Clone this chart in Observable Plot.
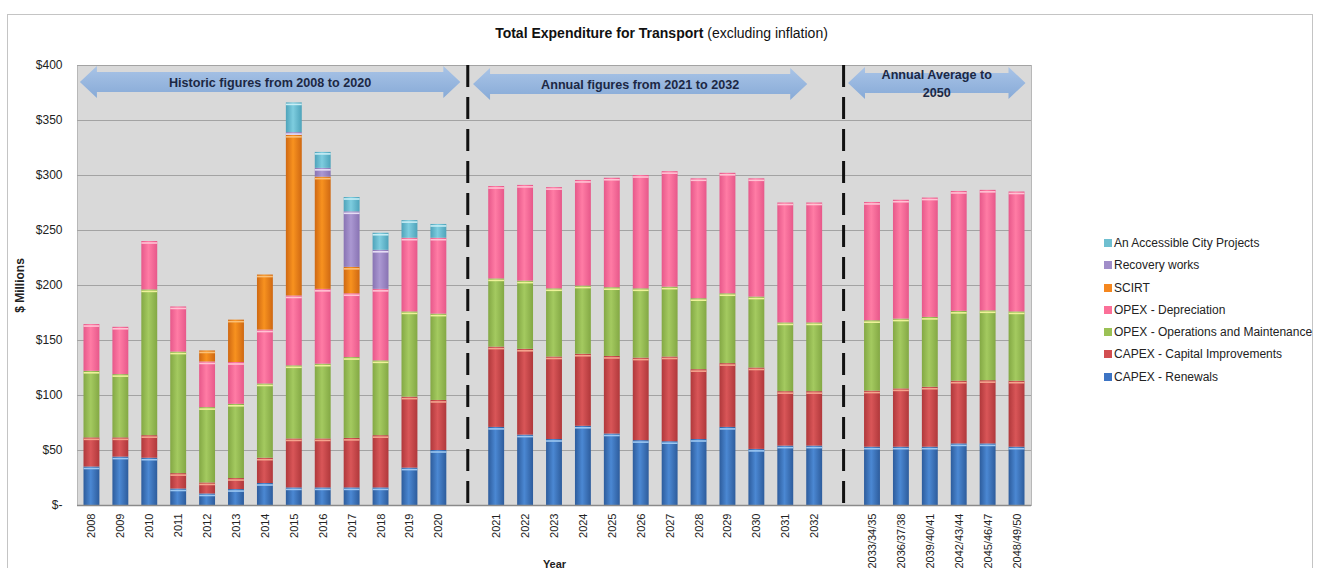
<!DOCTYPE html>
<html>
<head>
<meta charset="utf-8">
<script src="https://cdn.jsdelivr.net/npm/d3@7"></script>
<script src="https://cdn.jsdelivr.net/npm/@observablehq/plot@0.6"></script>
<style>
  html, body { margin: 0; padding: 0; background: #fff; }
  #wrap { position: relative; width: 1323px; height: 568px; overflow: hidden; font-family: "Liberation Sans", Arial, sans-serif; }
  #border { position: absolute; left: 7px; top: 14px; width: 1306px; height: 600px; border: 1px solid #c4c4c4; box-sizing: border-box; }
  #title { position: absolute; left: 0; width: 1323px; top: 25px; text-align: center; font-size: 14px; color: #111; }
  #title b { font-weight: bold; }
  #chart { position: absolute; left: 0; top: 0; }
  #legend { position: absolute; left: 1104px; top: 235px; font-size: 12px; color: #222; }
  #legend .item { height: 22.3px; line-height: 16px; white-space: nowrap; }
  #legend .sw { display: inline-block; width: 8px; height: 8px; margin-right: 2px; vertical-align: 0px; }
  g[aria-label="y-axis label"] text, g[aria-label="x-axis label"] text { font-weight: bold; }
</style>
</head>
<body>
<div id="wrap">
  <div id="border"></div>
  <div id="chart"></div>
  <div id="title"><b>Total Expenditure for Transport</b> (excluding inflation)</div>
  <div id="legend"></div>
</div>
<script>
// ---------- DATA ----------
const categories = [
  "2008","2009","2010","2011","2012","2013","2014","2015","2016","2017","2018","2019","2020",
  "2021","2022","2023","2024","2025","2026","2027","2028","2029","2030","2031","2032",
  "2033/34/35","2036/37/38","2039/40/41","2042/43/44","2045/46/47","2048/49/50"
];
const seriesNames = [
  "CAPEX - Renewals",
  "CAPEX - Capital Improvements",
  "OPEX - Operations and Maintenance",
  "OPEX - Depreciation",
  "SCIRT",
  "Recovery works",
  "An Accessible City Projects"
];
const renewals = [35,44,43,15,10.5,14.5,20,16,16,16,16,34,50, 71,64,60,72,65,59,58,60,71,51,54,54, 53,53,53,56,56,53];
const capitalImprovements = [26.5,17.5,20.5,14,10,10,23,44.5,44.5,45,47.5,64.5,45.5, 73,78,75,65.5,70.5,75,77,63.5,58,74,49.5,49.5, 51,53,54.5,57,57.5,60];
const operationsMaintenance = [60.5,57.5,132.5,110.5,68.5,67.5,67.5,66.5,68,73.5,68,77.5,78.5, 62,62,62,62,62.5,63,63.5,64.5,63.5,64.5,62.5,62.5, 64,63.5,63.5,63.5,63.5,63];
const depreciation = [42.5,43,44,41,41.5,38,49,63.5,68,58,65,67,69, 84,87,92,96,99.5,103,105,109,109.5,107.5,109,109, 107.5,108,108.5,109,109.5,109];
const scirt = [0,0,0,0,10,38.5,50,146,102,24,0,0,0, 0,0,0,0,0,0,0,0,0,0,0,0, 0,0,0,0,0,0];
const recoveryWorks = [0,0,0,0,0,0,0,2.5,8,50.5,35.5,0,0, 0,0,0,0,0,0,0,0,0,0,0,0, 0,0,0,0,0,0];
const accessibleCity = [0,0,0,0,0,0,0,27,14.5,13,15.5,16,12.5, 0,0,0,0,0,0,0,0,0,0,0,0, 0,0,0,0,0,0];
const yTicks = [0,50,100,150,200,250,300,350,400];
const periods = [
  {from: "2008", to: "2020", label: ["Historic figures from 2008 to 2020"]},
  {from: "2021", to: "2032", label: ["Annual figures from 2021 to 2032"]},
  {from: "2033/34/35", to: "2048/49/50", label: ["Annual Average to", "2050"]}
];
const gapAfter = ["2020", "2032"];

// ---------- STYLES ----------
const palette = {
  "CAPEX - Renewals":                  {id: "gBlue",   edge: "#2d5c9c", mid: "#4b88d3", cap: "#9cc8f2", sw: "#3d74c4"},
  "CAPEX - Capital Improvements":      {id: "gRed",    edge: "#b0383b", mid: "#d95658", cap: "#f4a58e", sw: "#d24e50"},
  "OPEX - Operations and Maintenance": {id: "gGreen",  edge: "#83a844", mid: "#a4ca60", cap: "#eef29a", sw: "#9bc155"},
  "OPEX - Depreciation":               {id: "gPink",   edge: "#e7588a", mid: "#ff7ca5", cap: "#ffc3d4", sw: "#fb6f98"},
  "SCIRT":                             {id: "gOrange", edge: "#cf6812", mid: "#f8921f", cap: "#fbc077", sw: "#f5871f"},
  "Recovery works":                    {id: "gPurple", edge: "#8873b3", mid: "#ab98d2", cap: "#e6ddf5", sw: "#a18ec9"},
  "An Accessible City Projects":       {id: "gCyan",   edge: "#4ea3ba", mid: "#7ecddf", cap: "#c9eef5", sw: "#6fbfd0"}
};
const arrowOffsets = [[-0.40, 0.76], [-0.80, -0.24], [-0.83, 0.31]];
const arrowY = [82, 84, 83];

// ---------- BUILD ----------
const seriesValues = [renewals, capitalImprovements, operationsMaintenance, depreciation, scirt, recoveryWorks, accessibleCity];
const rows = [];
seriesNames.forEach((s, si) => {
  categories.forEach((c, ci) => {
    rows.push({cat: c, series: s, value: seriesValues[si][ci]});
  });
});
const gaps = gapAfter.map((_, i) => "gap" + i);
const xDomain = [];
categories.forEach(c => {
  xDomain.push(c);
  const gi = gapAfter.indexOf(c);
  if (gi >= 0) xDomain.push(gaps[gi]);
});
const nonZero = rows.filter(d => d.value > 0);

const plot = Plot.plot({
  width: 1323,
  height: 568,
  marginLeft: 77,
  marginRight: 292,
  marginTop: 65,
  marginBottom: 63,
  style: {fontFamily: "'Liberation Sans', Arial, sans-serif", background: "transparent", color: "#222"},
  x: {domain: xDomain, paddingInner: 0.45, paddingOuter: 0.225, round: false, label: null},
  y: {domain: [0, 400], label: null},
  color: {type: "identity"},
  marks: [
    Plot.frame({fill: "#d9d9d9", stroke: "#b8b8b8"}),
    Plot.gridY(yTicks, {stroke: "#a3a3a3", strokeOpacity: 1, strokeWidth: 1}),
    Plot.barY(nonZero, {x: "cat", y: "value", fill: d => "url(#" + palette[d.series].id + ")", order: seriesNames}),
    Plot.tickY(nonZero, Plot.stackY2({x: "cat", y: "value", order: seriesNames, stroke: d => palette[d.series].cap, strokeWidth: 1.6, dy: 1.5})),
    Plot.ruleX(gaps, {stroke: "#111", strokeWidth: 3, strokeDasharray: "22,10"}),
    Plot.ruleY([0], {stroke: "#8a8a8a", strokeWidth: 1.5}),
    Plot.axisY({ticks: yTicks, tickSize: 0, tickPadding: 15, fontSize: 12, tickFormat: d => d === 0 ? "$-" : "$" + d,
      label: "$ Millions", labelAnchor: "center", labelArrow: "none", labelOffset: 62}),
    Plot.axisX({tickRotate: -90, tickSize: 0, tickPadding: 8, fontSize: 11, tickFormat: d => gaps.includes(d) ? "" : d,
      label: "Year", labelAnchor: "center", labelArrow: "none", labelOffset: 62})
  ]
});

// gradients
const svg = d3.select(plot);
const defs = svg.insert("defs", ":first-child");
Object.values(palette).forEach(p => {
  const g = defs.append("linearGradient").attr("id", p.id).attr("x1", "0").attr("x2", "1").attr("y1", "0").attr("y2", "0");
  g.append("stop").attr("offset", "0%").attr("stop-color", p.edge);
  g.append("stop").attr("offset", "45%").attr("stop-color", p.mid);
  g.append("stop").attr("offset", "100%").attr("stop-color", p.edge);
});
const ag = defs.append("linearGradient").attr("id", "gArrow").attr("x1", "0").attr("x2", "0").attr("y1", "0").attr("y2", "1");
ag.append("stop").attr("offset", "0%").attr("stop-color", "#a9c4e7");
ag.append("stop").attr("offset", "100%").attr("stop-color", "#87aad7");

// period arrows
const xs = plot.scale("x");
const bw = xs.bandwidth, step = xs.step;
const cx = c => xs.apply(c) + bw / 2;
const annot = svg.append("g").attr("aria-label", "period arrows");
periods.forEach((p, i) => {
  const x0 = cx(p.from) + arrowOffsets[i][0] * step;
  const x1 = cx(p.to) + arrowOffsets[i][1] * step;
  const yc = arrowY[i], hh = 16, sh = 10, hl = 17;
  const pts = [[x0, yc], [x0 + hl, yc - hh], [x0 + hl, yc - sh], [x1 - hl, yc - sh], [x1 - hl, yc - hh], [x1, yc],
               [x1 - hl, yc + hh], [x1 - hl, yc + sh], [x0 + hl, yc + sh], [x0 + hl, yc + hh]];
  annot.append("polygon").attr("points", pts.map(q => q.join(",")).join(" ")).attr("fill", "url(#gArrow)");
  const t = annot.append("text").attr("x", (x0 + x1) / 2).attr("text-anchor", "middle")
    .attr("font-size", 12.6).attr("font-weight", "bold").attr("fill", "#1c2844")
    .attr("font-family", "'Liberation Sans', Arial, sans-serif");
  const n = p.label.length;
  p.label.forEach((line, li) => {
    t.append("tspan").attr("x", (x0 + x1) / 2).attr("y", yc + 4.5 + (li - (n - 1) / 2) * 18).text(line);
  });
});

document.getElementById("chart").appendChild(plot);

// legend (top to bottom reverse of stack)
const legend = d3.select("#legend");
seriesNames.slice().reverse().forEach(s => {
  const it = legend.append("div").attr("class", "item");
  it.append("span").attr("class", "sw").style("background", palette[s].sw);
  it.append("span").text(s);
});
</script>
</body>
</html>
